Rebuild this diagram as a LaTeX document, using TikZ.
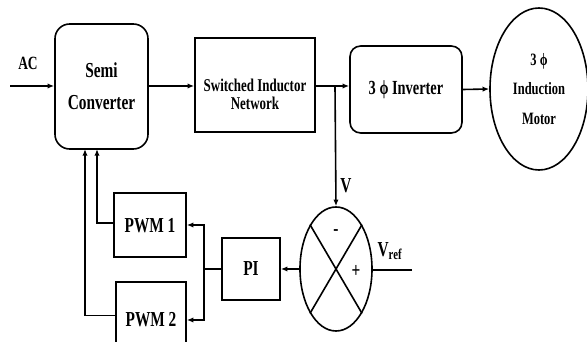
\documentclass[tikz,border=0pt]{standalone}
\usepackage{fontspec}
\setmainfont{Liberation Serif}[FakeStretch=0.72]
\usetikzlibrary{arrows.meta,positioning,shapes.geometric}

\begin{document}
\begin{tikzpicture}[
  x=0.75pt, y=-0.75pt,
  font=\bfseries\fontsize{16}{24}\selectfont,
  >={Latex[length=5pt,width=4pt]},
  block/.style={draw, line width=1.2pt, align=center, fill=white},
  rblock/.style={block, rounded corners=10pt},
  oval/.style={draw, line width=1.2pt, ellipse, inner sep=0pt, align=center},
  wire/.style={line width=1.2pt},
  el/.style={inner sep=1pt}
]
  \clip (0,0) rectangle (587,342);

  % Row 1: power path
  \node[rblock, minimum width=69.75pt, minimum height=93.75pt, rounded corners=11pt]
    (semi) at (101.5,86.5) {Semi\\Converter};
  \node[block, minimum width=90pt, minimum height=70.5pt] (sin) at (255,85) {};
  \node[font=\bfseries\fontsize{13.5}{13.5}\selectfont, align=center] (sintext)
    at (255,94) {Switched Inductor\\Network};
  \node[rblock, minimum width=84pt, minimum height=65.25pt, rounded corners=8pt,
        font=\bfseries\fontsize{15}{16}\selectfont] (inv) at (406,89.5)
    {3 ϕ Inverter};
  \node[oval, minimum width=73.5pt, minimum height=121.5pt,
        font=\bfseries\fontsize{13}{22}\selectfont] (motor) at (539,89)
    {3 ϕ\\Induction\\Motor};

  % Row 2: control loop
  \node[oval, minimum width=54pt, minimum height=93pt] (sum) at (336,269) {};
  \draw[wire] (sum.north west) -- (sum.south east);
  \draw[wire] (sum.north east) -- (sum.south west);
  \node[block, minimum width=43.5pt, minimum height=46.5pt] (pi) at (251,269) {PI};
  \node[block, minimum width=54pt, minimum height=48pt, text height=12pt]
    (pwm1) at (150,225) {PWM 1};
  \node[block, minimum width=52.5pt, minimum height=57pt] (pwm2) at (151,320) {PWM 2};

  \coordinate (acin) at (10,86);
  \coordinate (tap) at (335,86);
  \coordinate (split) at (204,269);
  \coordinate (vref) at (412,270);
  \coordinate (fb1) at (97,149);
  \coordinate (fb2) at (85,149);

  \node[el, font=\bfseries\fontsize{14}{16}\selectfont] (ac) at (28,63) {AC};
  \node[el] (v) at (346,186) {V};
  \node[el] (vr) at (390,251) {V\textsubscript{ref}};
  \node[el] (minus) at (336,233) {-};
  \node[el] (plus) at (356,271) {+};

  \draw[wire,->] (acin) -- (acin -| semi.west);
  \draw[wire,->] (semi.east |- acin) -- (sin.west |- acin);
  \draw[wire,->] (sin.east |- tap) -- (inv.west |- tap);
  \draw[wire,->] (inv.east) -- (motor.west);
  \draw[wire,->] (tap) -- (sum.north);
  \draw[wire] (vref) -- (sum.east |- vref);
  \draw[wire,->] (sum.west) -- (pi.east);
  \draw[wire] (pi.west) -- (split);
  \draw[wire,->] (split) |- (pwm1.east);
  \draw[wire,->] (split) |- (pwm2.east);

  \draw[wire,->] ([yshift=1.5pt]pwm1.west) -| (fb1);
  \draw[wire,->] ([yshift=3.5pt]pwm2.west) -| (fb2);
\end{tikzpicture}
\end{document}
